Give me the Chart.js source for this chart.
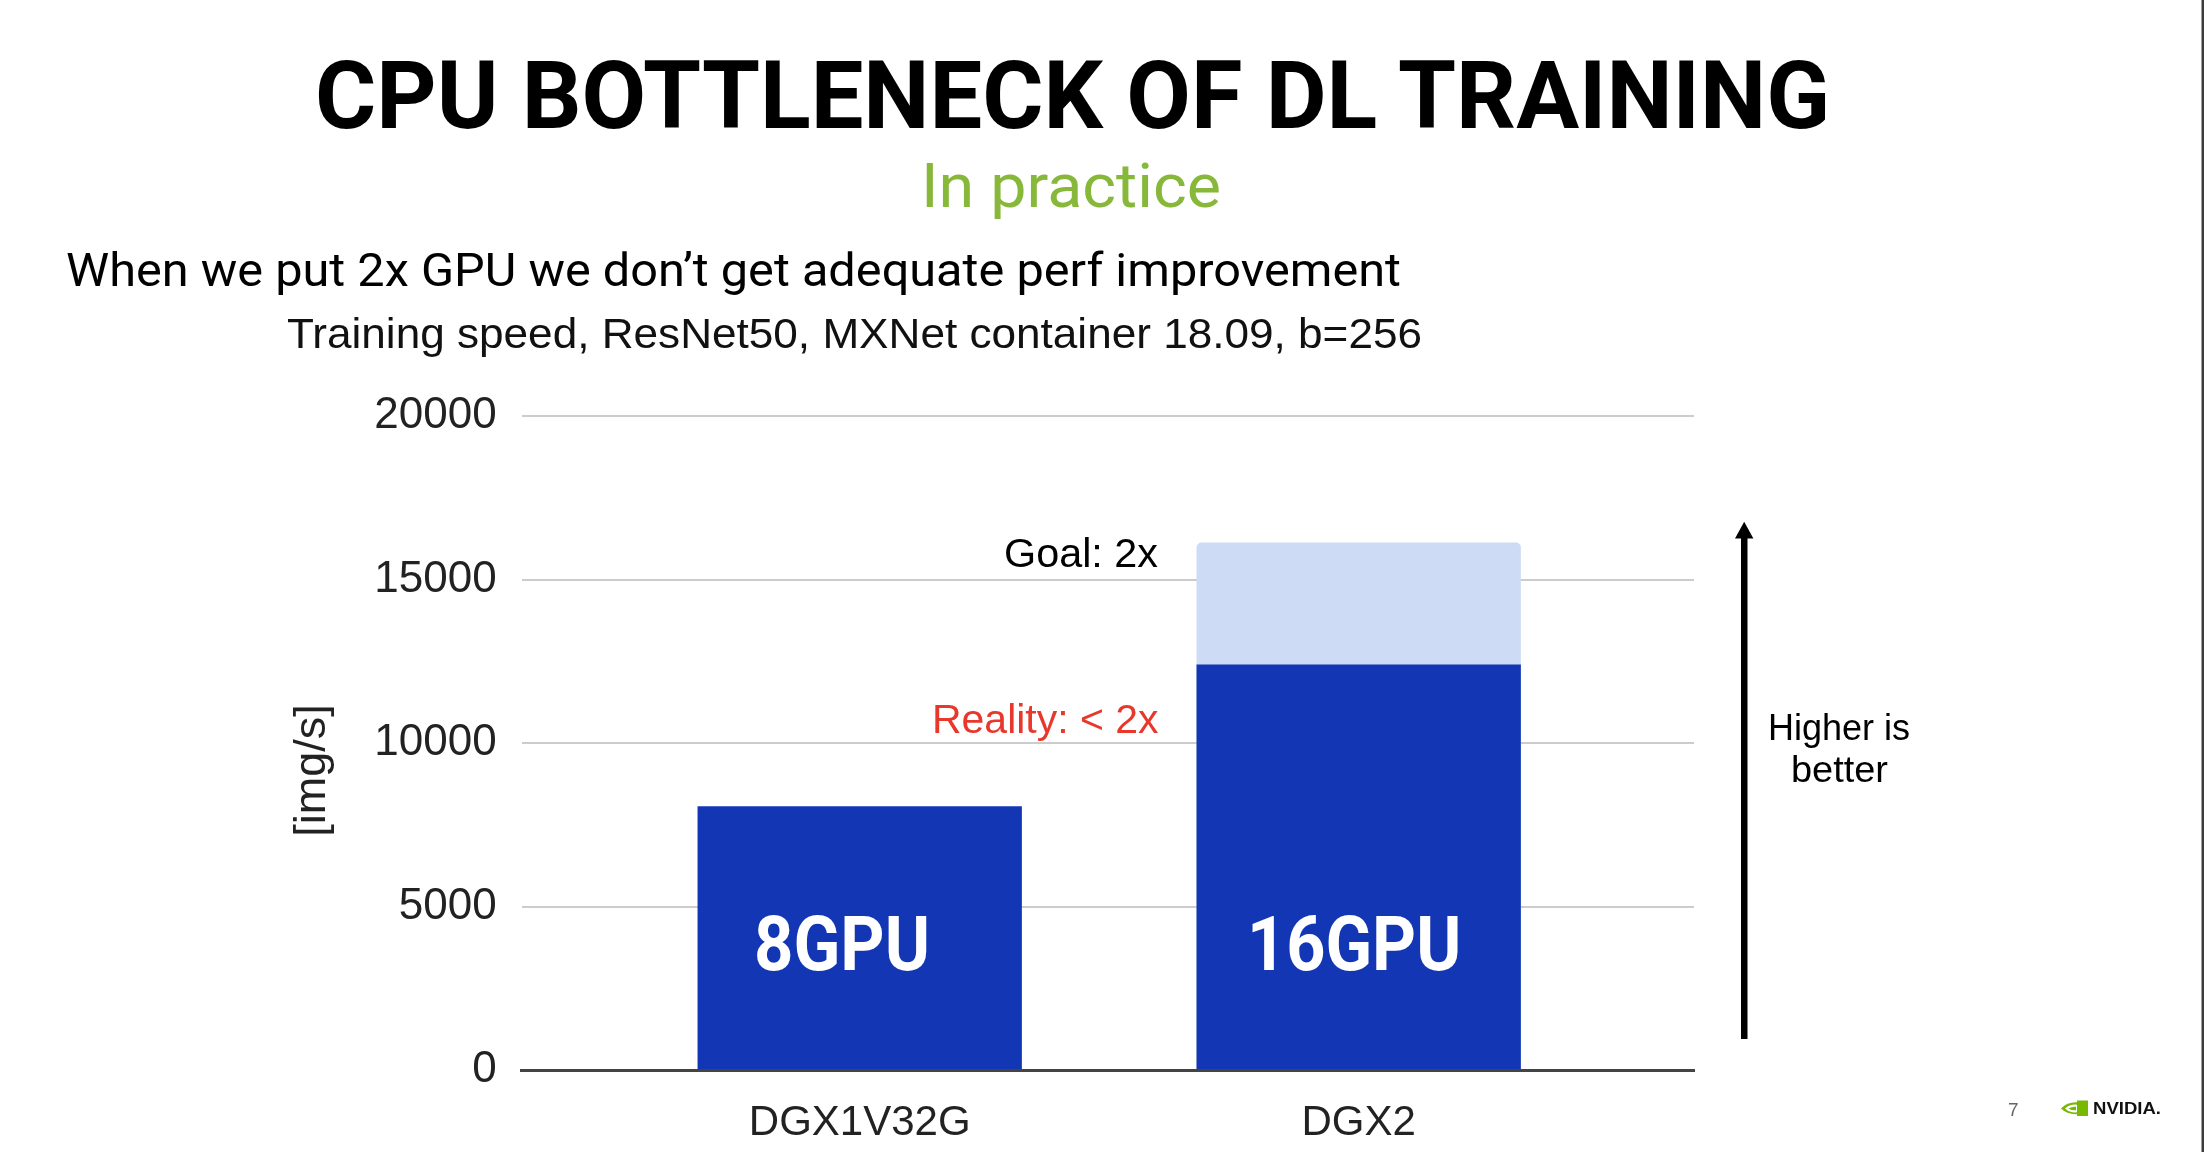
<!DOCTYPE html>
<html>
<head>
<meta charset="utf-8">
<script src="https://cdn.jsdelivr.net/npm/chart.js@4.4.1/dist/chart.umd.min.js"></script>
<style>
  html, body { margin: 0; padding: 0; background: #fff; }
  body { width: 2204px; height: 1152px; position: relative; overflow: hidden; }
  #c { position: absolute; left: 0; top: 0; }
  .t { position: absolute; white-space: nowrap; line-height: 1; transform-origin: 0 0; }
</style>
</head>
<body>
<canvas id="c" width="2204" height="1152"></canvas>
<script>
// ---- data ----
const categories = ['DGX1V32G', 'DGX2'];
const realityValues = [8065, 12400];
const goalValues = [null, 16130];
const yTickValues = [0, 5000, 10000, 15000, 20000];

// ---- slide texts (layout only) ----
const texts = [
  { text: 'CPU BOTTLENECK OF DL TRAINING', family: 'Roboto', weight: 700, size: 94, asc: 0.842, anchor: 'center', x: 1072.5, base: 127.7, width: 1515, color: '#000' },
  { text: 'In practice', family: 'Roboto', weight: 400, size: 62, asc: 0.842, anchor: 'center', x: 1071, base: 207, width: 300, color: '#87b83a' },
  { text: 'When we put 2x GPU we don\u2019t get adequate perf improvement', family: 'Roboto', weight: 400, size: 46, asc: 0.842, anchor: 'left', x: 66, base: 286, width: 1335, color: '#000' },
  { text: 'Training speed, ResNet50, MXNet container 18.09, b=256', family: 'Liberation Sans', weight: 400, size: 42, asc: 0.8466, anchor: 'left', x: 287, base: 349, width: 1135, color: '#111' },
  { text: 'Goal: 2x', family: 'Liberation Sans', weight: 400, size: 41, asc: 0.8466, anchor: 'right', x: 1158.3, base: 567.7, width: 154, color: '#000' },
  { text: 'Reality: < 2x', family: 'Liberation Sans', weight: 400, size: 41, asc: 0.8466, anchor: 'right', x: 1158.3, base: 733.3, width: 226.5, color: '#e8372b' },
  { text: '8GPU', family: 'Roboto', weight: 700, size: 76, asc: 0.842, anchor: 'left', x: 754, base: 970, width: 176, color: '#fff' },
  { text: '16GPU', family: 'Roboto', weight: 700, size: 76, asc: 0.842, anchor: 'left', x: 1246.7, base: 970, width: 214.3, color: '#fff' },
  { text: 'Higher is', family: 'Liberation Sans', weight: 400, size: 36, asc: 0.8466, anchor: 'center', x: 1839, base: 740, width: 142, color: '#000' },
  { text: 'better', family: 'Liberation Sans', weight: 400, size: 36, asc: 0.8466, anchor: 'center', x: 1839, base: 782, width: 97, color: '#000' },
  { text: '7', family: 'Liberation Sans', weight: 400, size: 19, asc: 0.8466, anchor: 'left', x: 2008, base: 1116, width: 0, color: '#666' },
  { text: 'NVIDIA.', family: 'Liberation Sans', weight: 700, size: 17, asc: 0.8466, anchor: 'left', x: 2093, base: 1114.5, width: 68, color: '#111' }
];

function placeTexts() {
  for (const s of texts) {
    const el = document.createElement('div');
    el.className = 't';
    el.textContent = s.text;
    el.style.fontFamily = "'" + s.family + "', sans-serif";
    el.style.fontWeight = s.weight;
    el.style.fontSize = s.size + 'px';
    el.style.color = s.color;
    document.body.appendChild(el);
    const natural = el.getBoundingClientRect().width;
    const w = s.width > 0 ? s.width : natural;
    const sc = w / natural;
    let left = s.x;
    if (s.anchor === 'center') left = s.x - w / 2;
    else if (s.anchor === 'right') left = s.x - w;
    el.style.left = left + 'px';
    el.style.top = (s.base - s.asc * s.size) + 'px';
    el.style.transform = 'scaleX(' + sc + ')';
  }
  // rotated y axis title
  const yt = document.createElement('div');
  yt.className = 't';
  yt.textContent = '[img/s]';
  yt.style.fontFamily = "'Liberation Sans', sans-serif";
  yt.style.fontSize = '45px';
  yt.style.color = '#222';
  yt.style.transformOrigin = '50% 50%';
  document.body.appendChild(yt);
  const r = yt.getBoundingClientRect();
  yt.style.left = (309 - r.width / 2) + 'px';
  yt.style.top = (770 - r.height / 2) + 'px';
  yt.style.transform = 'rotate(-90deg)';
}

// arrow, logo, right border
function decorations() {
  const svg = `
  <svg xmlns="http://www.w3.org/2000/svg" width="2204" height="1152" style="position:absolute;left:0;top:0;pointer-events:none">
    <rect x="1741" y="536" width="6.5" height="503" fill="#000"/>
    <polygon points="1744.2,521.7 1735,538.5 1753.4,538.5" fill="#000"/>
    <g transform="translate(2061,1100.5)">
      <path d="M0 8 Q6 1.5 16 1.8 L16 0 L27 0 L27 15.5 L16 15.5 L16 13.6 Q6 14 0 8 Z" fill="#76b900"/>
      <path d="M4 8 Q9 3.5 16 4.2 L16 11.8 Q9 12.5 4 8 Z" fill="#fff"/>
      <path d="M7.5 8 Q11 5.8 15 6.2 L15 9.8 Q11 10.2 7.5 8 Z" fill="#76b900"/>
    </g>
    <rect x="2201.5" y="0" width="2.5" height="1152" fill="#3c3c3c"/>
  </svg>`;
  document.body.insertAdjacentHTML('beforeend', svg);
}

const ctx = document.getElementById('c').getContext('2d');
new Chart(ctx, {
  type: 'bar',
  data: {
    datasets: [
      {
        label: 'Reality',
        data: realityValues.map((v, i) => ({ x: i, y: v })),
        backgroundColor: '#1337b4',
        grouped: false,
        categoryPercentage: 1,
        barPercentage: 0.65
      },
      {
        label: 'Goal',
        data: goalValues.map((v, i) => ({ x: i, y: v })),
        backgroundColor: '#cddbf5',
        borderRadius: { topLeft: 5, topRight: 5, bottomLeft: 0, bottomRight: 0 },
        borderSkipped: false,
        grouped: false,
        categoryPercentage: 1,
        barPercentage: 0.65
      }
    ]
  },
  options: {
    responsive: false,
    devicePixelRatio: 1,
    animation: false,
    layout: { padding: { left: 280, top: 416, right: 510, bottom: 0 } },
    plugins: { legend: { display: false }, tooltip: { enabled: false }, title: { display: false } },
    scales: {
      x: {
        type: 'linear',
        min: -0.6774,
        max: 1.672,
        offset: false,
        grid: { display: false, drawTicks: false },
        border: { display: true, color: '#444', width: 3 },
        afterBuildTicks: (s) => { s.ticks = categories.map((_, i) => ({ value: i })); },
        afterFit: (s) => { s.height = 82; },
        ticks: {
          padding: 28,
          color: '#222',
          font: { family: 'Liberation Sans', size: 42 },
          callback: (v) => categories[v] !== undefined ? categories[v] : ''
        }
      },
      y: {
        min: 0,
        max: 20000,
        afterBuildTicks: (s) => { s.ticks = yTickValues.map(v => ({ value: v })); },
        afterFit: (s) => { s.width = 241.7; },
        grid: {
          drawTicks: false,
          lineWidth: 2,
          color: (c) => (c.tick && c.tick.value === 0) ? 'rgba(0,0,0,0)' : '#cccccc'
        },
        border: { display: false },
        ticks: {
          padding: 25,
          color: '#222',
          font: { family: 'Liberation Sans', size: 44 },
          callback: (v) => String(v)
        }
      }
    }
  }
});

decorations();
if (document.fonts && document.fonts.ready) {
  document.fonts.ready.then(placeTexts);
} else {
  placeTexts();
}
</script>
</body>
</html>
